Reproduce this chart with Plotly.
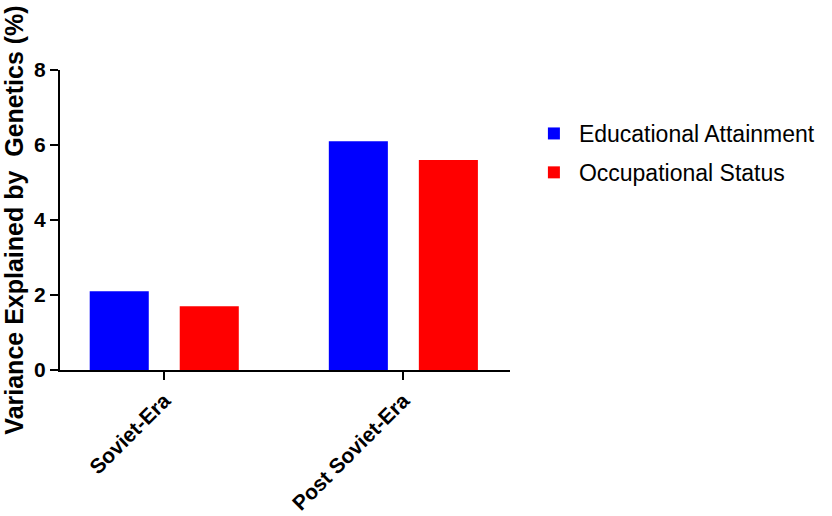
import plotly.graph_objects as go

categories = ['Soviet-Era', 'Post Soviet-Era']
educational = [2.1, 6.1]
occupational = [1.7, 5.6]
y_ticks = [0, 2, 4, 6, 8]

fig = go.Figure()
fig.add_trace(go.Bar(x=categories, y=educational, name='Educational Attainment',
                     marker_color='#0000FF', marker_line_width=0,
                     legendgroup='a'))
fig.add_trace(go.Bar(x=categories, y=occupational, name='Occupational Status',
                     marker_color='#FF0000', marker_line_width=0,
                     legendgroup='b'))

fig.update_layout(
    width=832, height=516,
    margin=dict(l=60, r=322, t=70, b=146),
    plot_bgcolor='white', paper_bgcolor='white',
    barmode='group', bargap=0.247, bargroupgap=0.344,
    font=dict(family='Liberation Sans, Arial', color='black'),
    legend=dict(x=1.042, y=0.86, xanchor='left', yanchor='top',
                font=dict(size=23), tracegroupgap=6,
                traceorder='grouped', itemwidth=40),
)
fig.update_xaxes(range=[-0.436, 1.446], showline=True, linecolor='black',
                 linewidth=2, ticks='outside', ticklen=8, tickwidth=2,
                 tickcolor='black', tickangle=-45, automargin=False,
                 tickfont=dict(size=21, weight='bold'))
fig.update_yaxes(range=[0, 8], tickvals=y_ticks, showline=True, linecolor='black',
                 linewidth=2, ticks='outside', ticklen=8, tickwidth=2,
                 tickcolor='black', showgrid=False, zeroline=False,
                 automargin=False,
                 tickfont=dict(size=21, weight='bold'),
                 title=dict(text='Variance Explained by \u00a0Genetics (%)',
                            font=dict(size=25, weight='bold'), standoff=10))

# drop the default 8px body margin so the figure fills the window
fig.write_html("out.html", config={'displayModeBar': False},
               post_script="document.body.style.margin='0';")
